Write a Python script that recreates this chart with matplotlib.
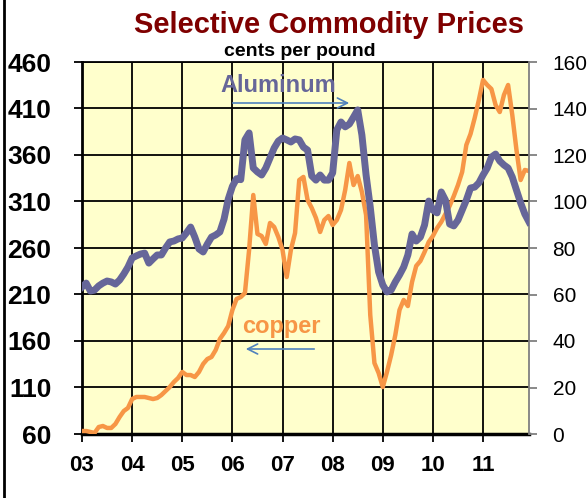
#!/usr/bin/env python
#coding:UTF-8
import numpy as np
import matplotlib
matplotlib.use("Agg")
import matplotlib.pyplot as plt

# monthly, Jan 2003 .. Dec 2011
start_year = 2003
years = [2003, 2004, 2005, 2006, 2007, 2008, 2009, 2010, 2011]
year_labels = ["03", "04", "05", "06", "07", "08", "09", "10", "11"]

# cents per pound, left axis
copper = [63.2, 63.2, 62.2, 61.1, 67.5, 68.6, 66.5, 66.5, 70.8, 78.3, 84.7, 88.0,
          97.6, 99.8, 99.8, 99.8, 98.7, 97.6, 98.7, 101.9, 106.2, 110.5, 115.9, 120.2,
          126.7, 123.4, 123.4, 121.3, 126.7, 135.3, 140.6, 142.8, 150.3, 162.2, 168.6, 176.1,
          193.3, 205.2, 207.3, 211.6, 257.9, 317.0, 275.1, 272.9, 264.3, 286.9, 282.6, 271.8,
          257.9, 228.8, 257.9, 276.1, 333.1, 336.4, 311.6, 303.0, 292.3, 277.2, 290.1, 294.4,
          284.7, 290.1, 300.9, 322.4, 351.4, 327.7, 337.4, 320.2, 295.5, 188.0, 136.3, 125.6,
          110.5, 126.7, 144.9, 166.5, 193.3, 204.1, 197.6, 223.4, 240.7, 246.0, 255.7, 266.5,
          272.9, 281.5, 288.0, 296.6, 305.2, 315.9, 327.7, 341.7, 370.8, 382.6, 399.8, 419.2,
          440.7, 435.3, 431.0, 413.8, 406.2, 424.5, 435.3, 403.0, 365.4, 333.1, 343.9, 342.8]

# cents per pound, right axis
aluminum = [63.2, 64.9, 61.5, 61.9, 63.7, 64.9, 65.8, 65.4, 64.5, 66.2, 68.8, 71.8,
            75.7, 76.6, 77.4, 77.8, 73.5, 75.3, 77.0, 77.0, 80.0, 82.6, 83.0, 83.9,
            84.3, 86.5, 89.0, 84.7, 79.6, 78.3, 81.7, 84.7, 85.6, 86.9, 92.4, 101.0,
            106.5, 109.8, 109.4, 126.5, 129.5, 114.4, 112.7, 111.4, 114.4, 118.7, 123.0, 126.0,
            127.3, 126.5, 125.6, 126.9, 126.5, 123.4, 122.1, 111.0, 109.2, 111.4, 109.2, 109.2,
            112.3, 130.8, 134.2, 132.1, 133.3, 136.3, 139.4, 128.6, 111.4, 97.6, 81.3, 69.7,
            64.1, 61.1, 61.9, 65.4, 68.4, 71.8, 77.0, 86.0, 83.0, 84.7, 89.9, 100.2,
            96.3, 95.1, 104.1, 100.6, 90.3, 89.5, 92.0, 96.3, 100.6, 105.8, 106.2, 108.0,
            111.4, 114.4, 119.1, 120.4, 117.4, 115.7, 114.4, 110.5, 104.9, 99.4, 94.6, 91.2]

left_ticks = [60, 110, 160, 210, 260, 310, 360, 410, 460]
right_ticks = [0, 20, 40, 60, 80, 100, 120, 140, 160]

W, H = 587, 498


def fx(px):
    return px / float(W)


def fy(py):
    return 1 - py / float(H)


def draw_png(out):
    x = start_year + np.arange(len(copper)) / 12.0

    fig = plt.figure(figsize=(W / 100.0, H / 100.0), dpi=100)
    fig.patch.set_facecolor("white")
    ax = fig.add_axes([fx(82), fy(434), fx(529) - fx(82), fy(62) - fy(434)])
    ax.set_facecolor("#FFFFCC")
    ax.set_zorder(1)

    ax.plot(x, copper, color="#F79646", lw=3.2, solid_joinstyle="round", zorder=3)
    ax.set_xlim(start_year, 2011 + 11 / 12.0)
    ax.set_ylim(60, 460)
    ax.set_yticks(left_ticks)
    ax.set_xticks(years)
    ax.set_xticklabels(year_labels)
    ax.grid(True, color="black", lw=1.3)
    ax.set_axisbelow(True)
    for t in ax.get_yticklabels():
        t.set_fontweight("bold")
    for t in ax.get_xticklabels():
        t.set_fontweight("bold")
    ax.tick_params(axis="y", labelsize=19, length=6, width=1.3, pad=16)
    ax.tick_params(axis="x", labelsize=16, length=6, width=1.3, pad=9)
    ax.spines["left"].set_linewidth(2)
    ax.spines["bottom"].set_linewidth(2.5)
    ax.spines["top"].set_linewidth(1.3)
    ax.spines["right"].set_visible(False)

    ax2 = ax.twinx()
    ax2.plot(x, aluminum, color="#666699", lw=5, solid_joinstyle="round", zorder=3)
    ax2.set_ylim(0, 160)
    ax2.set_yticks(right_ticks)
    ax2.tick_params(axis="y", labelsize=15, length=6, width=1.3, color="#808080", pad=11)
    ax2.spines["right"].set_color("#808080")
    ax2.spines["right"].set_linewidth(1.3)
    for s in ["left", "top", "bottom"]:
        ax2.spines[s].set_visible(False)

    # labels with arrows pointing to their axis
    ax.text(fx(220), fy(85), "Aluminum", transform=fig.transFigure, color="#666699",
            fontsize=17, fontweight="bold", ha="left", va="center", zorder=5)
    ax.annotate("", xy=(fx(352), fy(103)), xytext=(fx(230), fy(103)),
                xycoords="figure fraction", textcoords="figure fraction",
                arrowprops=dict(arrowstyle="->", color="#4F81BD", lw=1.2, mutation_scale=18))
    ax.text(fx(242), fy(326), "copper", transform=fig.transFigure, color="#F79646",
            fontsize=17, fontweight="bold", ha="left", va="center", zorder=5)
    ax.annotate("", xy=(fx(243), fy(349)), xytext=(fx(317), fy(349)),
                xycoords="figure fraction", textcoords="figure fraction",
                arrowprops=dict(arrowstyle="->", color="#4F81BD", lw=1.2, mutation_scale=18))

    fig.text(fx(329), fy(25), "Selective Commodity Prices", color="#7F0000",
             fontsize=21, fontweight="bold", ha="center", va="center")
    fig.text(fx(300), fy(51), "cents per pound", color="black",
             fontsize=14, fontweight="bold", ha="center", va="center")

    # slide border on the left
    fig.add_artist(plt.Line2D([fx(4), fx(4)], [0, 1], color="black", lw=2))

    plt.savefig(out, dpi=100)


if __name__ == "__main__":
    plt.rcParams["font.family"] = ["Liberation Sans", "DejaVu Sans"]
    draw_png("out.png")
